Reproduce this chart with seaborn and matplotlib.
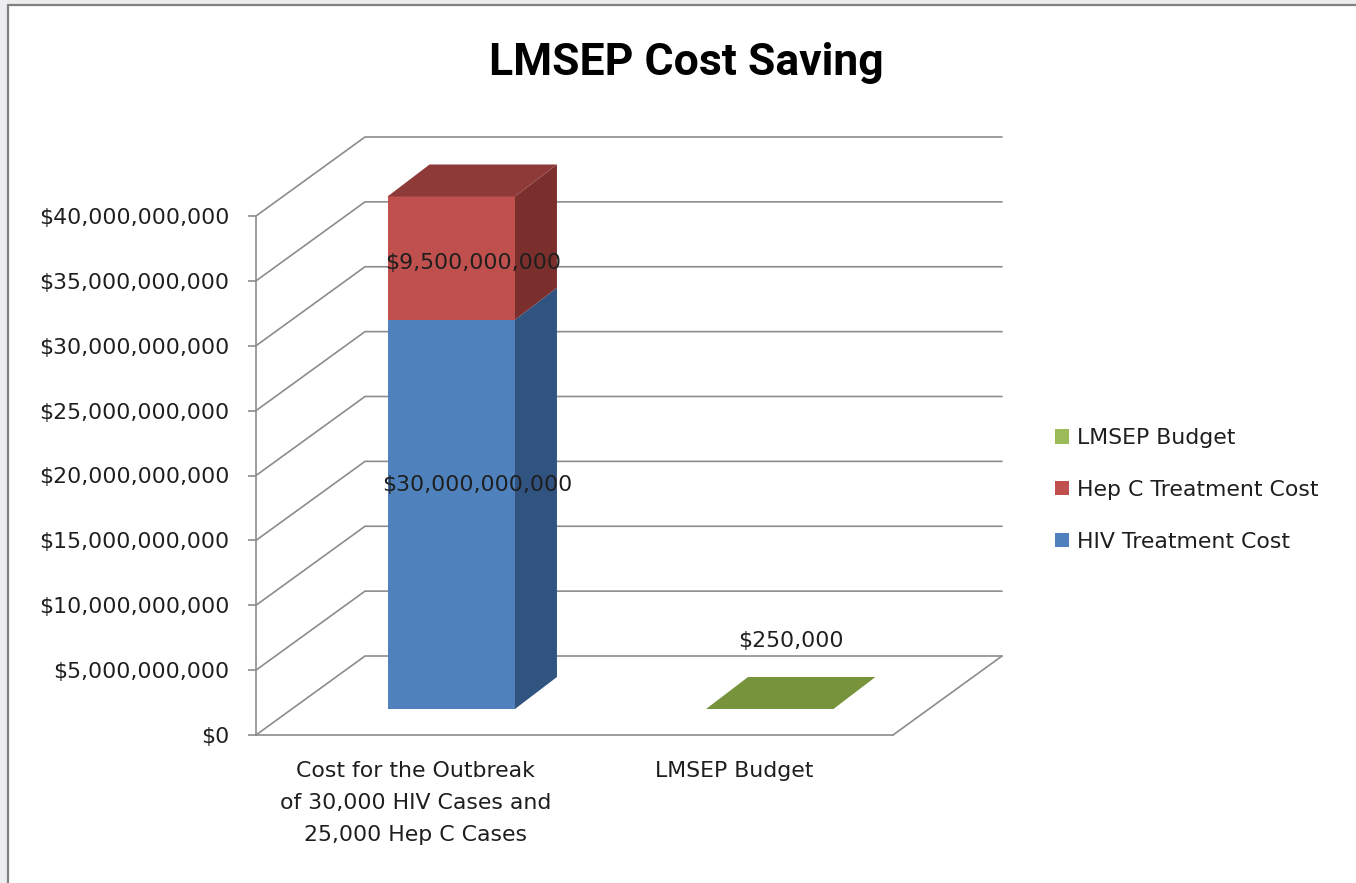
import numpy as np
import pandas as pd
import matplotlib
matplotlib.use("Agg")
import matplotlib.pyplot as plt
import seaborn as sns
from matplotlib.patches import Polygon, Rectangle, Patch

# ---------------- data ----------------
categories = ["Cost for the Outbreak\nof 30,000 HIV Cases and\n25,000 Hep C Cases", "LMSEP Budget"]
hiv_cost = [30_000_000_000, 0]
hepc_cost = [9_500_000_000, 0]
lmsep_budget = [0, 250_000]
series_names = ["HIV Treatment Cost", "Hep C Treatment Cost", "LMSEP Budget"]
y_ticks = [0, 5e9, 10e9, 15e9, 20e9, 25e9, 30e9, 35e9, 40e9]
title = "LMSEP Cost Saving"

# ---------------- style ----------------
front_cols = {"HIV Treatment Cost": "#4F81BD", "Hep C Treatment Cost": "#C0504D", "LMSEP Budget": "#9BBB59"}
side_cols = {"HIV Treatment Cost": "#30537F", "Hep C Treatment Cost": "#7B2F2D", "LMSEP Budget": "#5F7A2E"}
top_cols = {"HIV Treatment Cost": "#3E6699", "Hep C Treatment Cost": "#8E3A38", "LMSEP Budget": "#77933C"}
grid_col = "#8C8C8C"
text_col = "#1E1E1E"

sns.set_theme(style="white")
plt.rcParams["font.family"] = ["DejaVu Sans"]
FS = 15.8

W, H = 1356, 883
fig = plt.figure(figsize=(W / 100, H / 100), dpi=100)
fig.patch.set_facecolor("#EDEDEF")
fig.add_artist(Rectangle((8 / W, -0.01), 1.0, (H - 5) / H + 0.01, transform=fig.transFigure,
                         facecolor="white", edgecolor="#808080", lw=1.6, zorder=-5))

# axes = front plane of the 3D box (pixels)
AX_L, AX_R, AX_T, AX_B = 256, 893, 216, 735
ax = fig.add_axes([AX_L / W, (H - AX_B) / H, (AX_R - AX_L) / W, (AX_B - AX_T) / H])
ax.patch.set_visible(False)
XL, YL = (-0.5, 1.5), (0, 40e9)
sx = (XL[1] - XL[0]) / (AX_R - AX_L)   # data units per pixel
sy = (YL[1] - YL[0]) / (AX_B - AX_T)

def px(dx, dy):
    return dx * sx, dy * sy

wall_dx, wall_dy = px(109, 79)   # depth of the whole box
bar_fx, bar_fy = px(36, 26)      # bar front plane inside the box
bar_dx, bar_dy = px(42, 32)      # depth of each bar

# ---------------- walls / grid ----------------
for v in y_ticks:
    ax.plot([XL[0], XL[0] + wall_dx, XL[1] + wall_dx], [v, v + wall_dy, v + wall_dy],
            color=grid_col, lw=1.2, clip_on=False, zorder=1)
ax.plot([XL[1], XL[1] + wall_dx], [0, wall_dy], color=grid_col, lw=1.2, clip_on=False, zorder=1)

# ---------------- bars ----------------
df = pd.DataFrame({"category": categories, "HIV Treatment Cost": hiv_cost,
                   "Hep C Treatment Cost": hepc_cost, "LMSEP Budget": lmsep_budget})
bottom = np.zeros(len(categories))
segments = []  # (patch, series)
for s in series_names:
    n0 = len(ax.patches)
    sns.barplot(data=df, x="category", y=s, color=front_cols[s], saturation=1,
                width=0.40, errorbar=None, bottom=bottom.copy(), ax=ax, zorder=3, linewidth=0)
    for p in ax.patches[n0:]:
        segments.append((p, s))
    bottom = bottom + df[s].to_numpy()

top_seg = {}
for p, s in segments:
    p.set_x(p.get_x() + bar_fx)
    p.set_y(p.get_y() + bar_fy)
    p.set_clip_on(False)
    if p.get_height() > 0:
        cx = round(p.get_x() + p.get_width() / 2, 3)
        top_seg[cx] = (p, s)

for p, s in segments:
    h = p.get_height()
    if h <= 0:
        continue
    x0, y0, w = p.get_x(), p.get_y(), p.get_width()
    x1, y1 = x0 + w, y0 + h
    side = Polygon([(x1, y0), (x1 + bar_dx, y0 + bar_dy), (x1 + bar_dx, y1 + bar_dy), (x1, y1)],
                   closed=True, facecolor=side_cols[s], edgecolor="none", clip_on=False, zorder=3)
    ax.add_patch(side)

for cx, (p, s) in top_seg.items():
    x0, w = p.get_x(), p.get_width()
    y1 = p.get_y() + p.get_height()
    col = top_cols[s]
    top = Polygon([(x0, y1), (x0 + w, y1), (x0 + w + bar_dx, y1 + bar_dy), (x0 + bar_dx, y1 + bar_dy)],
                  closed=True, facecolor=col, edgecolor="none", clip_on=False, zorder=4)
    ax.add_patch(top)

# data labels
label_offsets = {("Hep C Treatment Cost", 0): (22, -5),
                 ("HIV Treatment Cost", 0): (26, 29),
                 ("LMSEP Budget", 1): (21, 68)}
for p, s in segments:
    if p.get_height() <= 0:
        continue
    ci = int(round(p.get_x() - bar_fx + p.get_width() / 2))
    val = p.get_height()
    anchor_y = p.get_y() + val / 2
    off = label_offsets.get((s, ci), (0, 0))
    ax.annotate(f"${val:,.0f}", xy=(p.get_x() + p.get_width() / 2, anchor_y),
                xytext=off, textcoords="offset pixels", ha="center", va="center",
                fontsize=FS, color=text_col, zorder=6, annotation_clip=False)

# ---------------- axes ----------------
ax.set_xlim(*XL)
ax.set_ylim(*YL)
ax.set_yticks(y_ticks)
ax.set_yticklabels([f"${v:,.0f}" for v in y_ticks], fontsize=FS, color=text_col)
ax.set_xticks(range(len(categories)))
ax.set_xticklabels(categories, fontsize=FS, color=text_col)
for t in ax.get_xticklabels():
    t.set_linespacing(1.74)
ax.set_xticks([-0.5, 0.5, 1.5], minor=True)
ax.tick_params(axis="x", which="major", length=0, pad=19)
ax.tick_params(axis="x", which="minor", length=6, width=1.2, color=grid_col, direction="out")
ax.tick_params(axis="y", which="major", length=6, width=1.2, color=grid_col, direction="out", pad=13, left=True)
ax.set_xlabel("")
ax.set_ylabel("")
for sp in ["top", "right"]:
    ax.spines[sp].set_visible(False)
for sp in ["left", "bottom"]:
    ax.spines[sp].set_color(grid_col)
    ax.spines[sp].set_linewidth(1.2)

# legend
handles = [Patch(facecolor=front_cols[s], edgecolor="none") for s in series_names[::-1]]
fig.legend(handles, series_names[::-1], loc="center left",
           bbox_to_anchor=(1055 / W, (H - 490) / H), bbox_transform=fig.transFigure,
           frameon=False, fontsize=FS, handlelength=0.62, handleheight=0.62,
           handletextpad=0.4, labelspacing=1.45, borderpad=0, borderaxespad=0,
           labelcolor=text_col)

# title
fig.text(686 / W, (H - 75) / H, title, ha="center", va="baseline",
         fontsize=32, fontweight="bold", family=["Roboto", "DejaVu Sans"], color="black")

fig.savefig("out.png", dpi=100)
